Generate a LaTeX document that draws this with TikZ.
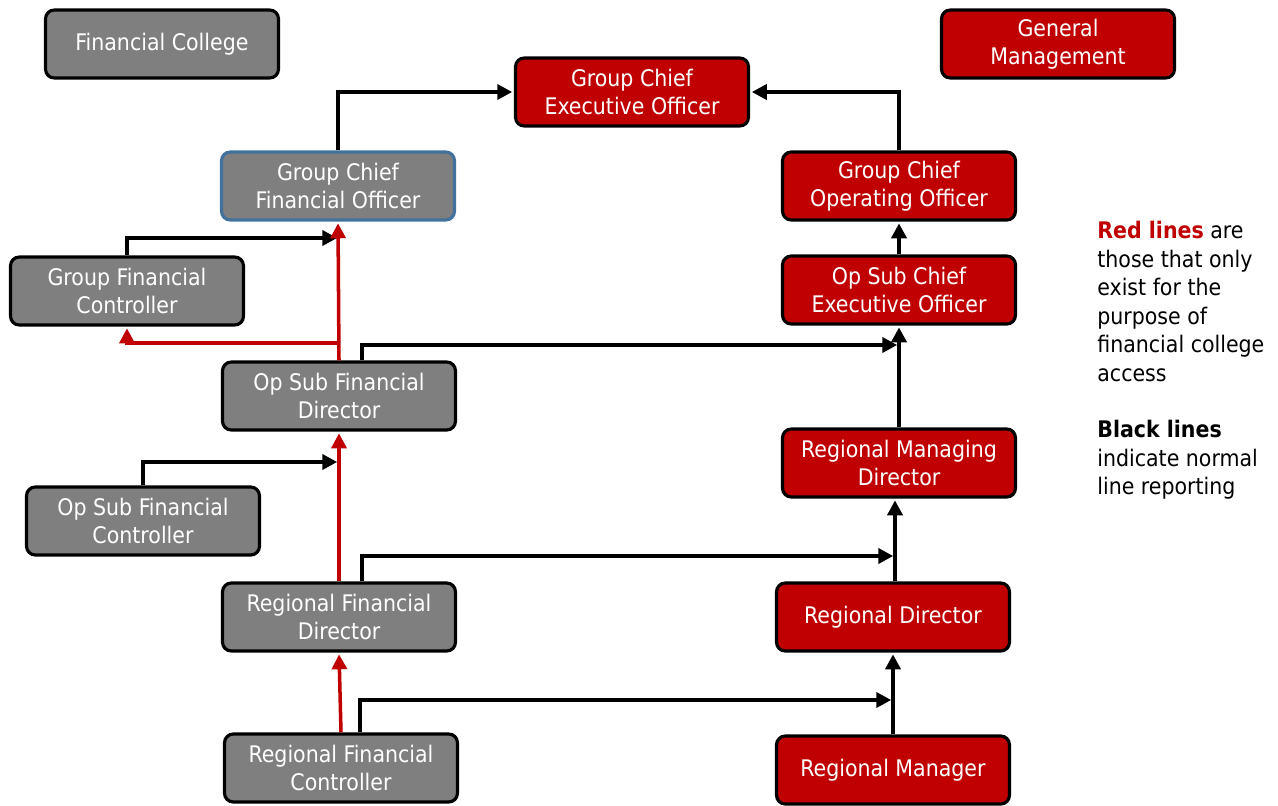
\documentclass[tikz,border=0pt]{standalone}
\usepackage{fontspec}
\setmainfont{DejaVu Sans Condensed}
\usetikzlibrary{calc,positioning,arrows.meta}
\definecolor{boxred}{HTML}{C00000}
\definecolor{boxgray}{HTML}{7F7F7F}
\definecolor{boxblue}{HTML}{41719C}

\begin{document}
\begin{tikzpicture}[x=0.02cm,y=-0.02cm,
    post/.style={draw=black,line width=1.8pt,rounded corners=5pt,text=white,align=center,
        minimum width=4.66cm,minimum height=1.36cm,inner sep=2pt,
        font=\fontsize{13}{16}\selectfont},
    fin/.style={post,fill=boxgray},
    mgmt/.style={post,fill=boxred},
    blk/.style={draw=black,line width=2.3pt,-{Triangle[length=8.5pt,width=8.5pt]},shorten >=1pt},
    redl/.style={draw=boxred,line width=2pt,-{Triangle[length=8.5pt,width=8.5pt]},shorten >=1pt}]
            \useasboundingbox (0,0) rectangle (1278,805);

            % key boxes
            \node[fin] (fc) at (162,44) {Financial College};
            \node[mgmt] (gm) at (1058,44) {General\\Management};

            % finance side
            \node[fin,draw=boxblue] (cfo) at (338,186) {Group Chief\\Financial Officer};
            \node[fin] (gfc) at (127,291) {Group Financial\\Controller};
            \node[fin] (osfd) at (339,396) {Op Sub Financial\\Director};
            \node[fin] (osfc) at (143,521) {Op Sub Financial\\Controller};
            \node[fin] (rfd) at (339,617) {Regional Financial\\Director};
            \node[fin] (rfc) at (341,768) {Regional Financial\\Controller};

            % management side
            \node[mgmt] (gceo) at (632,92) {Group Chief\\Executive Officer};
            \node[mgmt] (gcoo) at (899,186) {Group Chief\\Operating Officer};
            \node[mgmt] (oceo) at (899,290) {Op Sub Chief\\Executive Officer};
            \node[mgmt] (rmd) at (899,463) {Regional Managing\\Director};
            \node[mgmt] (rd) at (893,617) {Regional Director};
            \node[mgmt] (rm) at (893,770) {Regional Manager};

            % legend
            \node[anchor=north west,align=left,inner sep=0pt,
                font=\fontsize{13}{16.2}\selectfont] (key) at (1097,221)
                {\textbf{\color{boxred}Red lines} are\\ those that only\\ exist for the\\ purpose of\\ financial college\\ access\\[16.2pt]
                 \textbf{Black lines}\\ indicate normal\\ line reporting};

            % join points
            \coordinate (k1) at (339,238);
            \coordinate (k2) at (899,345);
            \coordinate (k3) at (339,462);
            \coordinate (k4) at (895,556);
            \coordinate (k5) at (893,700);
            \coordinate (k6) at (339,343);

            % normal reporting
            \draw[blk] (cfo.north) |- (gceo.west);
            \draw[blk] (gcoo.north) |- (gceo.east);
            \draw[blk] (oceo.north) -- (gcoo.south);
            \draw[blk] (gfc.north) |- (k1);
            \draw[blk] ($(osfd.north)+(23,0)$) |- (k2);
            \draw[blk] (rmd.north) -- (oceo.south);
            \draw[blk] (osfc.north) |- (k3);
            \draw[blk] ($(rfd.north)+(23,0)$) |- (k4);
            \draw[blk] (rd.north -| k4) -- (rmd.south -| k4);
            \draw[blk] ($(rfc.north)+(19,0)$) |- (k5);
            \draw[blk] (rm.north) -- (rd.south);

            % college access
            \draw[redl] (osfd.north) -- (cfo.south);
            \draw[redl] (k6) -| (gfc.south);
            \draw[redl] (rfd.north) -- (osfd.south);
            \draw[redl] (rfc.north) -- (rfd.south);
        \end{tikzpicture}
\end{document}
